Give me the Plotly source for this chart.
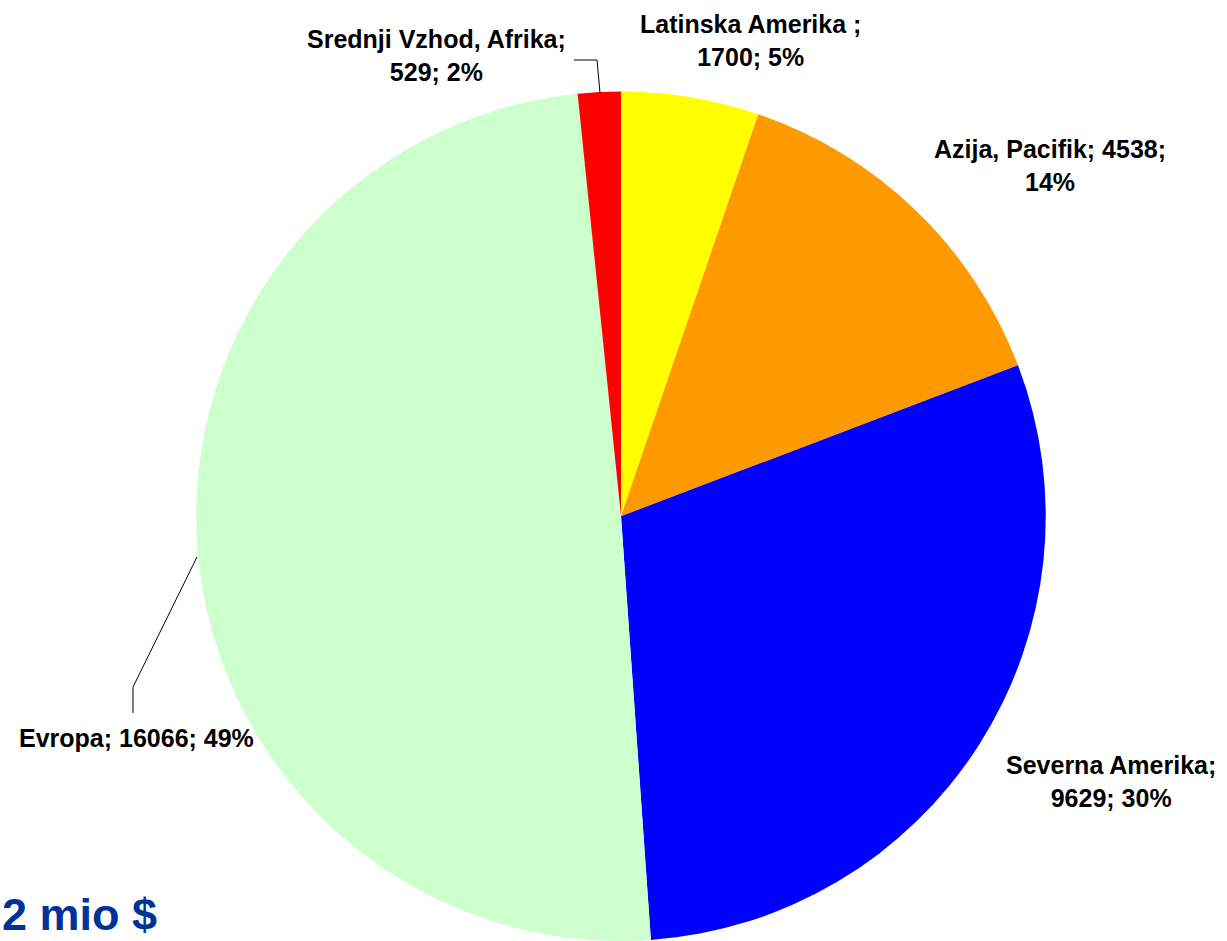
import plotly.graph_objects as go

W, H = 1227, 941

regions = ["Latinska Amerika", "Azija, Pacifik", "Severna Amerika", "Evropa", "Srednji Vzhod, Afrika"]
values = [1700, 4538, 9629, 16066, 529]
colors = ["#FFFF00", "#FF9900", "#0000FF", "#CCFFCC", "#FF0000"]
total_text = "2 mio $"

total = sum(values)
pcts = [round(v / total * 100) for v in values]

# label text templates (line breaks as in the reference)
templates = [
    "{name} ;<br>{v}; {p}%",
    "{name}; {v};<br>{p}%",
    "{name};<br>{v}; {p}%",
    "{name}; {v}; {p}%",
    "{name};<br>{v}; {p}%",
]
# label centres in pixels
label_pos = [(750, 41), (1050, 165), (1111, 781), (136, 738), (437, 56)]


def px(x):
    return x / W


def py(y):
    return 1 - y / H


fig = go.Figure()
fig.add_trace(go.Pie(
    labels=regions,
    values=values,
    marker=dict(colors=colors, line=dict(width=0)),
    sort=False,
    direction="clockwise",
    rotation=0,
    textinfo="none",
    hoverinfo="label+value+percent",
    showlegend=False,
    domain=dict(x=[px(194), px(1048)], y=[0, py(91.5)]),
))

font = dict(family="Arial, Liberation Sans, sans-serif", size=25, color="black")
annotations = []
for name, v, p, t, (lx, ly) in zip(regions, values, pcts, templates, label_pos):
    annotations.append(dict(
        x=px(lx), y=py(ly), xref="paper", yref="paper",
        text="<b>" + t.format(name=name, v=v, p=p) + "</b>",
        showarrow=False, xanchor="center", yanchor="middle",
        font=font, align="center",
    ))
annotations.append(dict(
    x=0, y=py(914), xref="paper", yref="paper",
    text="<b>" + total_text + "</b>", showarrow=False,
    xanchor="left", yanchor="middle",
    font=dict(family="Arial, Liberation Sans, sans-serif", size=45, color="#003399"),
))

leaders = [
    [(574, 60), (597, 60), (600, 93)],
    [(197, 557), (133, 687), (133, 713)],
]
shapes = []
for pts in leaders:
    path = "M " + " L ".join(f"{px(x)},{py(y)}" for x, y in pts)
    shapes.append(dict(type="path", path=path, xref="paper", yref="paper",
                       line=dict(color="black", width=1)))

fig.update_layout(
    width=W, height=H,
    margin=dict(l=0, r=0, t=0, b=0),
    paper_bgcolor="white", plot_bgcolor="white",
    annotations=annotations, shapes=shapes,
)
fig.write_html("out.html")
